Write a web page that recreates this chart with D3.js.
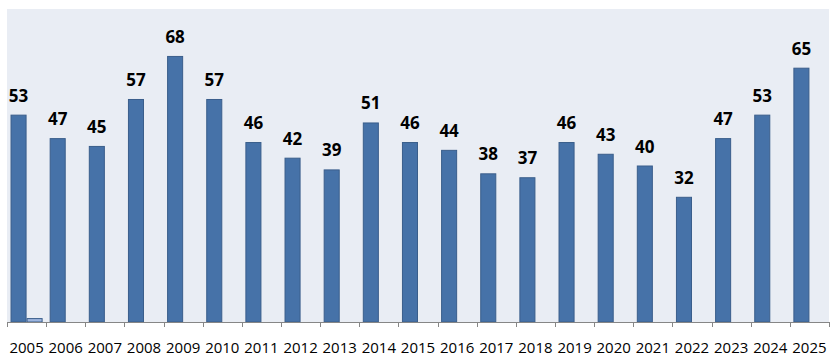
<!DOCTYPE html>
<html><head><meta charset="utf-8">
<script src="https://cdn.jsdelivr.net/npm/d3@7"></script>
<style>body{margin:0;background:#fff}svg{display:block}</style>
</head><body>
<svg id="c" width="839" height="358"></svg>
<script>
const years = ["2005","2006","2007","2008","2009","2010","2011","2012","2013","2014","2015","2016","2017","2018","2019","2020","2021","2022","2023","2024","2025"];
const seriesA = [53,47,45,57,68,57,46,42,39,51,46,44,38,37,46,43,40,32,47,53,65];
const seriesB = [1,0,0,0,0,0,0,0,0,0,0,0,0,0,0,0,0,0,0,0,0];
const yDomain = [0, 80];

const svg = d3.select("#c");
const L = 7, R = 829, T = 9, B = 322;
svg.append("rect").attr("x", L).attr("y", T).attr("width", R - L).attr("height", B - T).attr("fill", "#e9edf4");

const x = d3.scaleBand().domain(years).range([L, R]).paddingInner(0.18).paddingOuter(0.09);
const x1 = d3.scaleBand().domain(["A","B"]).range([0, x.bandwidth()]);
const y = d3.scaleLinear().domain(yDomain).range([B, T]);

const g = svg.append("g");
g.selectAll("rect.a").data(years).join("rect").attr("class","a")
  .attr("x", d => x(d) + x1("A") + 0.5)
  .attr("y", (d,i) => y(seriesA[i]) + 0.5)
  .attr("width", x1.bandwidth() - 1)
  .attr("height", (d,i) => y(0) - y(seriesA[i]) - 0.5)
  .attr("fill", "#4672a8").attr("stroke", "#3a5e8b").attr("stroke-width", 1);

g.selectAll("rect.b").data(years.filter((d,i) => seriesB[i] > 0)).join("rect").attr("class","b")
  .attr("x", d => x(d) + x1("B") + 0.5)
  .attr("y", d => y(seriesB[years.indexOf(d)]) + 0.5)
  .attr("width", x1.bandwidth() - 1)
  .attr("height", d => y(0) - y(seriesB[years.indexOf(d)]) - 0.5)
  .attr("fill", "#9db5df").attr("stroke", "#3a5e8b").attr("stroke-width", 1);

g.selectAll("text.lab").data(years).join("text").attr("class","lab")
  .attr("x", d => x(d) + x1("A") + x1.bandwidth()/2)
  .attr("y", (d,i) => y(seriesA[i]) - 13)
  .attr("text-anchor", "middle")
  .attr("font-family", "'Open Sans', 'Liberation Sans', sans-serif")
  .attr("font-weight", "bold").attr("font-size", "17px").attr("fill", "#000")
  .text((d,i) => seriesA[i]);

// axis
const ax = svg.append("g");
ax.append("line").attr("x1", L).attr("x2", R).attr("y1", B + 0.5).attr("y2", B + 0.5).attr("stroke", "#868686");
const step = x.step();
const bounds = d3.range(years.length + 1).map(i => i === 0 ? L : (i === years.length ? R : x(years[i]) - (step - x.bandwidth())/2));
ax.selectAll("line.t").data(bounds).join("line").attr("class","t")
  .attr("x1", d => Math.round(d) + 0.5).attr("x2", d => Math.round(d) + 0.5)
  .attr("y1", B).attr("y2", B + 5).attr("stroke", "#868686");
ax.selectAll("text").data(years).join("text")
  .attr("x", d => x(d) + x.bandwidth()/2)
  .attr("y", 353)
  .attr("text-anchor", "middle")
  .attr("font-family", "'Open Sans', 'Liberation Sans', sans-serif")
  .attr("font-size", "15px").attr("fill", "#000")
  .text(d => d);
</script>
</body></html>
